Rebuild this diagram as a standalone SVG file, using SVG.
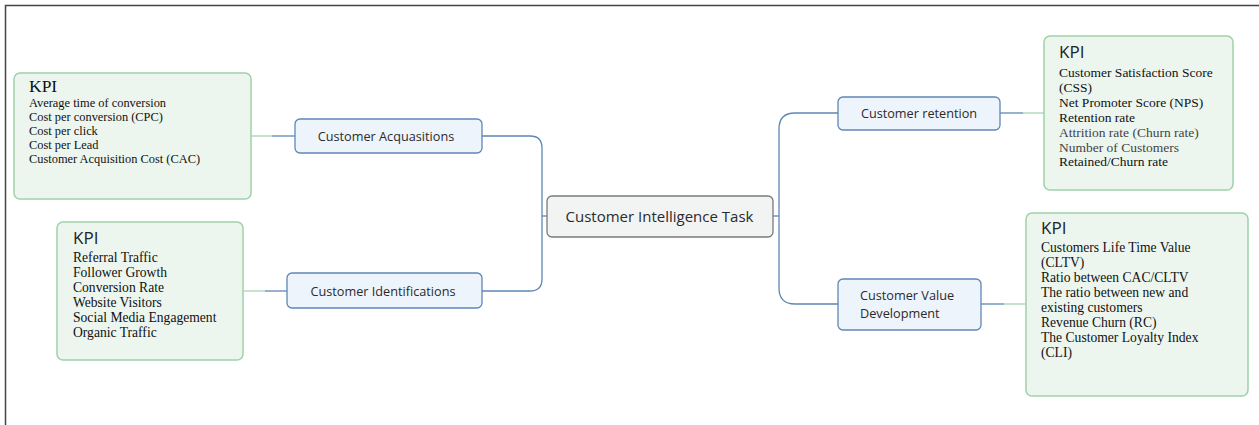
<svg xmlns="http://www.w3.org/2000/svg" width="1259" height="425" viewBox="0 0 1259 425">
<style>
.kpi{fill:#ecf6ef;stroke:#9fd1ab;stroke-width:1.5}
.node{fill:#eef4fb;stroke:#5f87b6;stroke-width:1.3}
.root{fill:#f2f3f3;stroke:#7a7a7a;stroke-width:1.3}
.kt{font-family:"Open Sans","Noto Sans",sans-serif;font-size:17px;fill:#222}
.ki{font-family:"Liberation Serif","Times New Roman",serif;fill:#111}
.nt{font-family:"Open Sans","Noto Sans",sans-serif;font-size:12.7px;fill:#2a2a2a}
.rt{font-family:"Open Sans","Noto Sans",sans-serif;font-size:15px;fill:#2a2a2a}
.blue{fill:none;stroke:#5f87b6;stroke-width:1.3}
.green{fill:none;stroke:#a7d6b2;stroke-width:1.3}
</style>
<rect width="1259" height="425" fill="#fff"/>
<path d="M5.5 425 V5.5 H1259" fill="none" stroke="#444" stroke-width="1.5"/>
<g id="connectors">
<path class="blue" d="M482 136 H530 Q542 136 542 148 V279 Q542 291 530 291 H482"/>
<path class="blue" d="M542 216 H547"/>
<path class="blue" d="M773 216 H779"/>
<path class="blue" d="M838 113 H795 Q779 113 779 129 V288 Q779 304 795 304 H838"/>
<path class="blue" d="M272 136 H295"/><path class="green" d="M251 136 H272"/>
<path class="blue" d="M265 291 H287"/><path class="green" d="M243 291 H265"/>
<path class="blue" d="M1000 113 H1023"/><path class="green" d="M1023 113 H1044"/>
<path class="blue" d="M981 304 H1004"/><path class="green" d="M1004 304 H1026"/>
</g>
<g id="root"><rect class="root" x="547" y="196" width="226" height="41" rx="5"/><text class="rt" x="659.5" y="221.5" text-anchor="middle">Customer Intelligence Task</text></g>
<g id="acq"><rect class="node" x="295" y="119" width="187" height="34" rx="5"/><text class="nt" x="386" y="141" text-anchor="middle">Customer Acquasitions</text></g>
<g id="ident"><rect class="node" x="287" y="273" width="195" height="35" rx="5"/><text class="nt" x="383" y="296" text-anchor="middle">Customer Identifications</text></g>
<g id="ret"><rect class="node" x="838" y="97" width="162" height="33" rx="5"/><text class="nt" x="919" y="118" text-anchor="middle">Customer retention</text></g>
<g id="cvd"><rect class="node" x="838" y="279" width="143" height="51" rx="5"/><text class="nt" x="860" y="300">Customer Value</text><text class="nt" x="860" y="318">Development</text></g>
<g id="kpi-acq"><rect class="kpi" x="14" y="73" width="237" height="126" rx="6"/>
<text class="ki" x="29" y="92" font-size="17.5" fill="#222">KPI</text>
<text class="ki" font-size="12.4"><tspan x="29" y="107">Average time of conversion</tspan><tspan x="29" y="121">Cost per conversion (CPC)</tspan><tspan x="29" y="135">Cost per click</tspan><tspan x="29" y="149">Cost per Lead</tspan><tspan x="29" y="163">Customer Acquisition Cost (CAC)</tspan></text></g>
<g id="kpi-ident"><rect class="kpi" x="57" y="222" width="186" height="138" rx="6"/>
<text class="kt" x="73" y="244">KPI</text>
<text class="ki" font-size="13.6"><tspan x="73" y="262">Referral Traffic</tspan><tspan x="73" y="277">Follower Growth</tspan><tspan x="73" y="292">Conversion Rate</tspan><tspan x="73" y="307">Website Visitors</tspan><tspan x="73" y="322">Social Media Engagement</tspan><tspan x="73" y="337">Organic Traffic</tspan></text></g>
<g id="kpi-ret"><rect class="kpi" x="1044" y="36" width="189" height="154" rx="6"/>
<text class="kt" x="1059" y="58">KPI</text>
<text class="ki" font-size="13.5"><tspan x="1059" y="77">Customer Satisfaction Score</tspan><tspan x="1059" y="92">(CSS)</tspan><tspan x="1059" y="107">Net Promoter Score (NPS)</tspan><tspan x="1059" y="122">Retention rate</tspan><tspan x="1059" y="137" fill="#444">Attrition rate (Churn rate)</tspan><tspan x="1059" y="152" fill="#444">Number of Customers</tspan><tspan x="1059" y="166">Retained/Churn rate</tspan></text></g>
<g id="kpi-cvd"><rect class="kpi" x="1026" y="213" width="222" height="183" rx="6"/>
<text class="kt" x="1041" y="234">KPI</text>
<text class="ki" font-size="13.6"><tspan x="1041" y="252">Customers Life Time Value</tspan><tspan x="1041" y="267">(CLTV)</tspan><tspan x="1041" y="282">Ratio between CAC/CLTV</tspan><tspan x="1041" y="297">The ratio between new and</tspan><tspan x="1041" y="312">existing customers</tspan><tspan x="1041" y="327">Revenue Churn (RC)</tspan><tspan x="1041" y="342">The Customer Loyalty Index</tspan><tspan x="1041" y="357">(CLI)</tspan></text></g>
</svg>
